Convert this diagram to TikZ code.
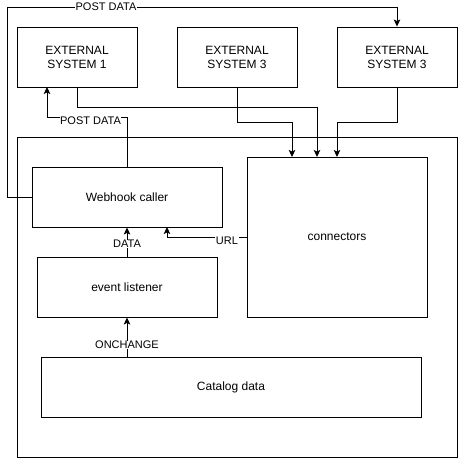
\documentclass[tikz,border=0pt]{standalone}
\usepackage{fontspec}
\setmainfont{Liberation Sans}
\usetikzlibrary{arrows.meta}
\begin{document}
\begin{tikzpicture}[x=1pt,y=-1pt,
  box/.style={draw,line width=0.9pt,inner sep=0pt,font=\fontsize{12}{14}\selectfont,align=center},
  conn/.style={line width=0.9pt,-{Stealth[length=7pt,width=6.5pt,inset=1.5pt]}},
  lbl/.style={fill=white,inner sep=0.6pt,font=\fontsize{11}{13}\selectfont}]
\useasboundingbox (0,0) rectangle (458,458);
% outer container
\node[box,minimum width=440pt,minimum height=320pt] (outer) at (237,297) {};
\node[box,minimum width=120pt,minimum height=60pt] (e1) at (77,57) {EXTERNAL\\SYSTEM 1};
\node[box,minimum width=120pt,minimum height=60pt] (e2) at (237,57) {EXTERNAL\\SYSTEM 3};
\node[box,minimum width=120pt,minimum height=60pt] (e3) at (397,57) {EXTERNAL\\SYSTEM 3};
\node[box,minimum width=190pt,minimum height=60pt] (wh) at (127,197) {Webhook caller};
\node[box,minimum width=180pt,minimum height=160pt] (con) at (337,237) {connectors};
\node[box,minimum width=180pt,minimum height=60pt] (ev) at (127,287) {event listener};
\node[box,minimum width=380pt,minimum height=60pt] (cat) at (231,387) {Catalog data};
% connectors
\draw[conn] (wh.west) -| (7,7) -| (e3.north);
\node[lbl] (lpd1) at (106,7) {POST DATA};
\draw[conn] (wh.north) -- (127,117) -| (47,87);
\node[lbl] (lpd2) at (90.5,120.5) {POST DATA};
\draw[conn] (77,87) |- (317,107) -- (317,157);
\draw[conn] (e2.south) |- (292,122) -- (292,157);
\draw[conn] (e3.south) |- (337,122) -- (337,157);
\draw[conn] (ev.north) -- (wh.south);
\node[lbl] (ldata) at (127,244) {DATA};
\draw[conn] (con.west) -| (167,227);
\node[lbl] (lurl) at (227,241) {URL};
\draw[conn] (127,357) -- (ev.south);
\node[lbl] (lon) at (127,345) {ONCHANGE};
\end{tikzpicture}
\end{document}
